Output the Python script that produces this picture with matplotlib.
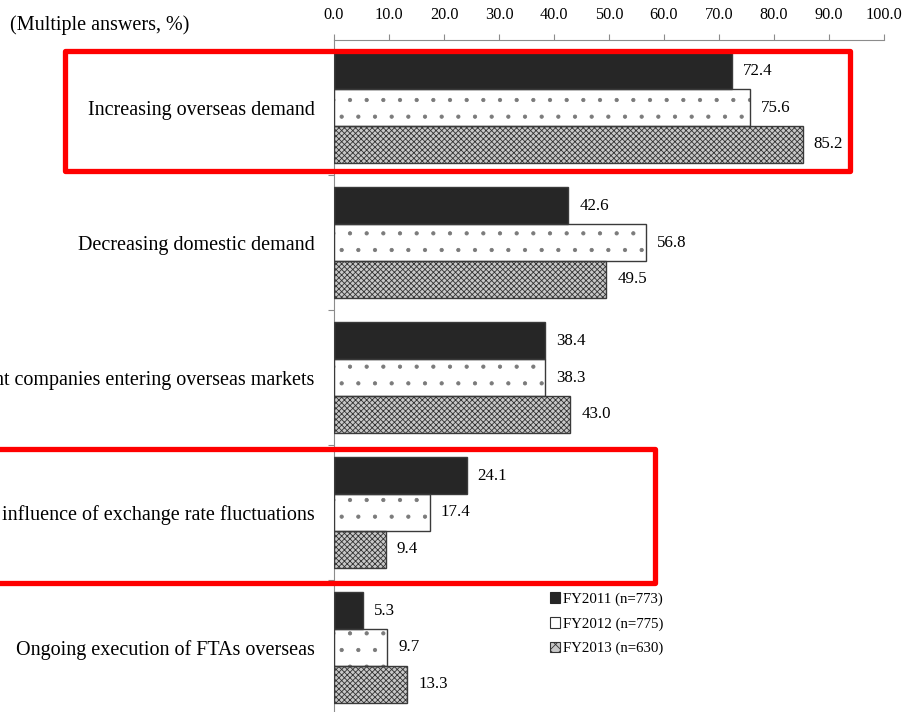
import numpy as np
import matplotlib
matplotlib.use("Agg")
import matplotlib.pyplot as plt
from matplotlib.patches import Patch, Rectangle

# ==========================================
# 1. DATA
# ==========================================
CATEGORIES = [
    "Increasing overseas demand",
    "Decreasing domestic demand",
    "nt companies entering overseas markets",
    "influence of exchange rate fluctuations",
    "Ongoing execution of FTAs overseas",
]
SERIES = ["FY2011 (n=773)", "FY2012 (n=775)", "FY2013 (n=630)"]
FY2011 = [72.4, 42.6, 38.4, 24.1, 5.3]
FY2012 = [75.6, 56.8, 38.3, 17.4, 9.7]
FY2013 = [85.2, 49.5, 43.0, 9.4, 13.3]
X_TICKS = [0, 10, 20, 30, 40, 50, 60, 70, 80, 90, 100]

# ==========================================
# 2. STYLE
# ==========================================
plt.rcParams['font.family'] = ['Liberation Serif', 'DejaVu Serif']
plt.rcParams['hatch.linewidth'] = 0.6

# fill colour, hatch colour, hatch pattern
STYLES = [
    dict(facecolor='#262626', hatchcolor='#262626', hatch=None),
    dict(facecolor='white', hatchcolor='#7a7a7a', hatch='.'),
    dict(facecolor='#c8c8c8', hatchcolor='#333333', hatch='xxxxxx'),
]
OUTLINE = '#3a3a3a'
AXIS_GRAY = '#8c8c8c'
BAR_H = 0.272

# ==========================================
# 3. PLOT
# ==========================================
fig = plt.figure(figsize=(9.03, 7.12), dpi=100)
ax = fig.add_axes([0.3699, -0.0042, 0.609, 0.948])

y = np.arange(len(CATEGORIES))
for k, (vals, st) in enumerate(zip([FY2011, FY2012, FY2013], STYLES)):
    pos = y + (k - 1) * BAR_H
    # fill + hatch
    ax.barh(pos, vals, height=BAR_H, facecolor=st['facecolor'],
            edgecolor=st['hatchcolor'], hatch=st['hatch'], linewidth=0,
            zorder=2)
    # crisp outline
    ax.barh(pos, vals, height=BAR_H, fill=False, edgecolor=OUTLINE,
            linewidth=1.0, zorder=3)
    for p, v in zip(pos, vals):
        ax.text(v + 2.0, p, f"{v:.1f}", va='center', ha='left', fontsize=12.2)

ax.set_xlim(0, 100)
ax.set_ylim(len(CATEGORIES) - 0.5, -0.5)

# x axis on top
ax.xaxis.tick_top()
ax.set_xticks(X_TICKS)
ax.set_xticklabels([f"{t:.1f}" for t in X_TICKS], fontsize=11.7)
ax.tick_params(axis='x', direction='out', length=4, width=0.8,
               color=AXIS_GRAY, pad=8)

# category labels, small ticks at group boundaries
ax.set_yticks(y)
ax.set_yticklabels(CATEGORIES, fontsize=14.5)
ax.tick_params(axis='y', which='major', length=0, pad=14)
ax.set_yticks(np.arange(0.5, len(CATEGORIES) - 0.5, 1.0), minor=True)
ax.tick_params(axis='y', which='minor', direction='out', length=4.5,
               width=0.8, color=AXIS_GRAY)

for side in ['right', 'bottom']:
    ax.spines[side].set_visible(False)
for side in ['top', 'left']:
    ax.spines[side].set_color(AXIS_GRAY)
    ax.spines[side].set_linewidth(0.8)

fig.text(0.011, 0.965, "(Multiple answers, %)", fontsize=14.5,
         ha='left', va='center')

# legend
handles = [Patch(facecolor=st['facecolor'], edgecolor='#262626' if i == 0 else '#333333',
                 hatch='xxx' if i == 2 else None, linewidth=0.8)
           for i, st in enumerate(STYLES)]
fig.legend(handles, SERIES, loc='upper left', bbox_to_anchor=(0.609, 0.168),
           frameon=False, fontsize=10.7, handlelength=0.7, handleheight=0.7,
           handletextpad=0.15, labelspacing=0.75, borderpad=0, borderaxespad=0)

# red highlight boxes
for x0, y0, x1, y1 in [(0.072, 0.760, 0.9413, 0.929), (-0.02, 0.181, 0.7259, 0.370)]:
    fig.add_artist(Rectangle((x0, y0), x1 - x0, y1 - y0, transform=fig.transFigure,
                             fill=False, edgecolor='#ff0000', linewidth=3.8,
                             joinstyle='round', zorder=5))

fig.savefig("out.png", dpi=100, facecolor='w')
